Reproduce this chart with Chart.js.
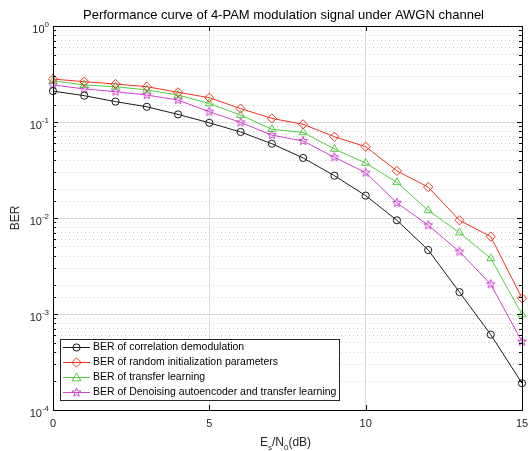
<!DOCTYPE html>
<html>
<head>
<meta charset="utf-8">
<script src="https://cdn.jsdelivr.net/npm/chart.js@4/dist/chart.umd.min.js"></script>
<style>
  html, body { margin: 0; padding: 0; background: #fff; }
  canvas { display: block; }
</style>
</head>
<body>
<canvas id="myChart" width="528" height="451"></canvas>
<script>
const snr = [0, 1, 2, 3, 4, 5, 6, 7, 8, 9, 10, 11, 12, 13, 14, 15];
const berCorrelation = [0.21, 0.188, 0.163, 0.144, 0.12, 0.098, 0.0787, 0.0594, 0.0422, 0.0276, 0.0171, 0.00946, 0.00464, 0.00169, 0.00061, 0.00019];
const berRandomInit = [0.28, 0.263, 0.249, 0.233, 0.204, 0.179, 0.138, 0.109, 0.0946, 0.0703, 0.0553, 0.0309, 0.021, 0.00946, 0.0064, 0.00146];
const berTransfer = [0.269, 0.243, 0.233, 0.216, 0.191, 0.156, 0.118, 0.084, 0.078, 0.0523, 0.0374, 0.0235, 0.012, 0.00703, 0.0038, 0.00099];
const berDae = [0.243, 0.221, 0.207, 0.191, 0.169, 0.128, 0.099, 0.073, 0.0634, 0.0429, 0.0297, 0.0144, 0.0084, 0.00446, 0.00204, 0.000515];

const seriesNames = [
  'BER of correlation demodulation',
  'BER of random initialization parameters',
  'BER of transfer learning',
  'BER of Denoising autoencoder and transfer learning'
];
const xTickValues = [0, 5, 10, 15];
const yTickValues = [1, 0.1, 0.01, 0.001, 0.0001];
const yTickExps = ['0', '-1', '-2', '-3', '-4'];

const FONT = '"Liberation Sans", Arial, Helvetica, sans-serif';
const BLACK = '#1a1a1a', RED = '#ee3322', GREEN = '#55cc44', MAGENTA = '#cc44cc';
const STAR_R = 4.6;

function isDecade(v) {
  const l = Math.log10(v);
  return Math.abs(l - Math.round(l)) < 1e-6;
}

// five point star marker (pentagram)
function makeStar(color, R) {
  const c = document.createElement('canvas');
  c.width = 12; c.height = 12;
  const g = c.getContext('2d');
  drawStarPath(g, 6, 6, R);
  g.strokeStyle = color;
  g.lineWidth = 1;
  g.stroke();
  return c;
}
function drawStarPath(g, cx, cy, R) {
  const r = R * 0.42;
  g.beginPath();
  for (let k = 0; k < 10; k++) {
    const a = -Math.PI / 2 + k * Math.PI / 5;
    const rr = k % 2 === 0 ? R : r;
    const px = cx + rr * Math.cos(a), py = cy + rr * Math.sin(a);
    if (k === 0) g.moveTo(px, py); else g.lineTo(px, py);
  }
  g.closePath();
}
const starImg = makeStar(MAGENTA, STAR_R);

function pts(arr) {
  return snr.map((x, i) => ({x: x, y: arr[i]}));
}

function drawMarker(ctx, style, color, x, y) {
  ctx.save();
  ctx.strokeStyle = color;
  ctx.lineWidth = 1;
  ctx.beginPath();
  if (style === 'circle') {
    ctx.arc(x, y, 3.6, 0, Math.PI * 2);
  } else if (style === 'rectRot') {
    ctx.moveTo(x, y - 4.6); ctx.lineTo(x + 4.6, y); ctx.lineTo(x, y + 4.6); ctx.lineTo(x - 4.6, y); ctx.closePath();
  } else if (style === 'triangle') {
    ctx.moveTo(x, y - 4.5); ctx.lineTo(x + 4.5, y + 3.4); ctx.lineTo(x - 4.5, y + 3.4); ctx.closePath();
  } else {
    drawStarPath(ctx, x, y, STAR_R);
  }
  ctx.stroke();
  ctx.restore();
}

const decorations = {
  id: 'decorations',
  afterDatasetsDraw(chart) {
    const ctx = chart.ctx;
    const a = chart.chartArea;
    const xs = chart.scales.x, ys = chart.scales.y;
    ctx.save();

    // frame
    ctx.strokeStyle = '#000';
    ctx.lineWidth = 1;
    ctx.strokeRect(Math.round(a.left) + 0.5, Math.round(a.top) + 0.5, Math.round(a.right - a.left), Math.round(a.bottom - a.top));

    // tick marks
    ctx.beginPath();
    ys.ticks.forEach(t => {
      const py = Math.round(ys.getPixelForValue(t.value)) + 0.5;
      const len = isDecade(t.value) ? 5 : 3;
      ctx.moveTo(a.left, py); ctx.lineTo(a.left + len, py);
      ctx.moveTo(a.right, py); ctx.lineTo(a.right - len, py);
    });
    xTickValues.forEach(v => {
      const px = Math.round(xs.getPixelForValue(v)) + 0.5;
      ctx.moveTo(px, a.bottom); ctx.lineTo(px, a.bottom - 5);
      ctx.moveTo(px, a.top); ctx.lineTo(px, a.top + 5);
    });
    ctx.stroke();

    // x tick labels
    ctx.fillStyle = '#262626';
    ctx.font = '11px ' + FONT;
    ctx.textAlign = 'center';
    ctx.textBaseline = 'middle';
    xTickValues.forEach(v => {
      ctx.fillText(String(v), xs.getPixelForValue(v), a.bottom + 14);
    });

    // y tick labels 10^n
    yTickValues.forEach((v, i) => {
      const py = ys.getPixelForValue(v);
      ctx.font = '8px ' + FONT;
      const ew = ctx.measureText(yTickExps[i]).width;
      ctx.textAlign = 'left';
      ctx.textBaseline = 'alphabetic';
      ctx.fillText(yTickExps[i], a.left - 4 - ew, py + 0.5);
      ctx.font = '11px ' + FONT;
      ctx.textAlign = 'right';
      ctx.fillText('10', a.left - 4 - ew, py + 7);
    });

    // title
    ctx.fillStyle = '#000';
    ctx.font = '13px ' + FONT;
    ctx.textAlign = 'center';
    ctx.textBaseline = 'middle';
    ctx.fillText('Performance curve of 4-PAM modulation signal under AWGN channel', (a.left + a.right) / 2 - 4, 15);

    // y axis title
    ctx.save();
    ctx.translate(16, (a.top + a.bottom) / 2);
    ctx.rotate(-Math.PI / 2);
    ctx.fillStyle = '#262626';
    ctx.font = '12px ' + FONT;
    ctx.fillText('BER', 0, 0);
    ctx.restore();

    // x axis title E_s/N_0(dB)
    ctx.fillStyle = '#262626';
    ctx.textAlign = 'left';
    ctx.textBaseline = 'alphabetic';
    const parts = [['E', 12, 0], ['s', 8, 4], ['/N', 12, 0], ['0', 8, 4], ['(dB)', 12, 0]];
    let total = 0;
    parts.forEach(p => { ctx.font = p[1] + 'px ' + FONT; total += ctx.measureText(p[0]).width; });
    let cx = (a.left + a.right) / 2 - 2 - total / 2;
    const base = 446;
    parts.forEach(p => {
      ctx.font = p[1] + 'px ' + FONT;
      ctx.fillText(p[0], cx, base + p[2]);
      cx += ctx.measureText(p[0]).width;
    });

    // legend
    const lx = 60, ly = 339, lw = 279, lh = 61;
    ctx.fillStyle = '#fff';
    ctx.fillRect(lx, ly, lw, lh);
    ctx.strokeStyle = '#262626';
    ctx.lineWidth = 1;
    ctx.strokeRect(lx + 0.5, ly + 0.5, lw, lh);
    chart.data.datasets.forEach((ds, i) => {
      const ey = ly + 8.5 + i * 15;
      ctx.strokeStyle = ds.borderColor;
      ctx.beginPath();
      ctx.moveTo(lx + 3, ey); ctx.lineTo(lx + 30, ey);
      ctx.stroke();
      drawMarker(ctx, ds.markerName, ds.borderColor, lx + 16.5, ey);
      ctx.fillStyle = '#000';
      ctx.font = '10.5px ' + FONT;
      ctx.textAlign = 'left';
      ctx.textBaseline = 'middle';
      ctx.fillText(seriesNames[i], lx + 33, ey);
    });

    ctx.restore();
  }
};

function dataset(i, arr, color, style, radius) {
  return {
    label: seriesNames[i],
    data: pts(arr),
    borderColor: color,
    backgroundColor: 'rgba(0,0,0,0)',
    borderWidth: 1,
    pointStyle: style,
    markerName: style === starImg ? 'star' : style,
    pointRadius: radius,
    pointHoverRadius: radius,
    pointBorderWidth: 1,
    pointBorderColor: color,
    pointBackgroundColor: 'rgba(0,0,0,0)',
    tension: 0,
    fill: false,
    clip: 8
  };
}

const ctx = document.getElementById('myChart').getContext('2d');
const myChart = new Chart(ctx, {
  type: 'line',
  data: {
    datasets: [
      dataset(0, berCorrelation, BLACK, 'circle', 3.6),
      dataset(1, berRandomInit, RED, 'rectRot', 4.6),
      dataset(2, berTransfer, GREEN, 'triangle', 4.6),
      dataset(3, berDae, MAGENTA, starImg, STAR_R)
    ]
  },
  options: {
    responsive: false,
    animation: false,
    events: [],
    layout: { padding: { left: 53, right: 6, top: 26, bottom: 41 } },
    plugins: {
      legend: { display: false },
      title: { display: false },
      tooltip: { enabled: false }
    },
    scales: {
      x: {
        type: 'linear',
        min: 0,
        max: 15,
        ticks: { display: false, stepSize: 5 },
        grid: {
          drawTicks: false,
          lineWidth: 1,
          color: ctx => (ctx.tick && ctx.tick.value % 5 === 0) ? '#dedede' : 'rgba(0,0,0,0)'
        },
        border: { display: false }
      },
      y: {
        type: 'logarithmic',
        min: 0.0001,
        max: 1,
        ticks: { display: false },
        grid: {
          drawTicks: false,
          color: ctx => (ctx.tick && isDecade(ctx.tick.value)) ? '#dedede' : '#cfcfcf',
          lineWidth: 1
        },
        border: {
          display: false,
          dash: ctx => (ctx.tick && !isDecade(ctx.tick.value)) ? [1, 3] : []
        }
      }
    }
  },
  plugins: [decorations]
});
</script>
</body>
</html>
